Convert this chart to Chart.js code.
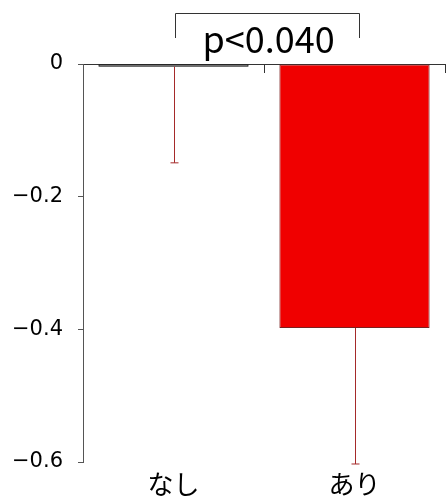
<!DOCTYPE html>
<html>
  <head>
    <meta charset="UTF-8" />
    <script src="https://cdn.jsdelivr.net/npm/chart.js"></script>
    <style>
      html, body { margin: 0; padding: 0; background: #fff; }
      #wrap { width: 446px; height: 502px; }
    </style>
  </head>
  <body>
    <div id="wrap"><canvas id="barChart" width="446" height="502"></canvas></div>
    <script>
      // データ
      const categories = ["なし", "あり"];
      const means = [-0.004, -0.398];
      const errors = [0.145, 0.205];
      const yTicks = [0, -0.2, -0.4, -0.6];
      const pLabel = "p<0.040";

      const jpFont = "'Noto Sans CJK JP', 'Noto Sans', sans-serif";

      // エラーバーとp値ブラケット
      const extras = {
        id: "extras",
        afterDatasetsDraw(chart) {
          const ctx = chart.ctx;
          const x = chart.scales.x;
          const y = chart.scales.y;
          ctx.save();
          ctx.strokeStyle = "#a52a2a";
          ctx.lineWidth = 1;
          means.forEach((m, i) => {
            const cx = Math.round(x.getPixelForValue(i)) + 0.5;
            const y1 = y.getPixelForValue(m);
            const y2 = y.getPixelForValue(m - errors[i]);
            ctx.beginPath();
            ctx.moveTo(cx, y1);
            ctx.lineTo(cx, y2);
            ctx.moveTo(cx - 4, y2);
            ctx.lineTo(cx + 4, y2);
            ctx.stroke();
          });
          // ブラケット
          const x0 = Math.round(x.getPixelForValue(0)) + 1.5;
          const x1 = Math.round(x.getPixelForValue(1)) + 4.5;
          ctx.strokeStyle = "#333";
          ctx.beginPath();
          ctx.moveTo(x0, 38);
          ctx.lineTo(x0, 13.5);
          ctx.lineTo(x1, 13.5);
          ctx.lineTo(x1, 38);
          ctx.stroke();
          ctx.fillStyle = "#000";
          ctx.font = "36px " + jpFont;
          ctx.textAlign = "center";
          ctx.textBaseline = "alphabetic";
          ctx.fillText(pLabel, (x0 + x1) / 2 + 1, 53);
          ctx.restore();
        },
      };

      new Chart(document.getElementById("barChart"), {
        type: "bar",
        data: {
          labels: categories,
          datasets: [
            {
              data: means,
              backgroundColor: ["#ffffff", "#f00000"],
              borderColor: ["#000000", "#7a2020"],
              borderWidth: 1,
              borderSkipped: false,
              categoryPercentage: 1,
              barPercentage: 0.83,
            },
          ],
        },
        options: {
          responsive: false,
          animation: false,
          layout: { padding: { top: 64, right: 1, left: 0, bottom: 0 } },
          plugins: { legend: { display: false }, tooltip: { enabled: false } },
          scales: {
            x: {
              type: "category",
              position: { y: 0 },
              offset: true,
              grid: {
                offset: true,
                drawOnChartArea: false,
                tickLength: 8,
                color: "#333",
              },
              border: { color: "#333", width: 1 },
              ticks: { display: false },
            },
            x2: {
              type: "category",
              position: "bottom",
              labels: categories,
              offset: true,
              grid: { display: false, drawTicks: false },
              border: { display: false },
              ticks: {
                color: "#000",
                padding: 7,
                font: { family: jpFont, size: 26 },
              },
              afterFit: (s) => { s.height = 40; },
            },
            y: {
              min: -0.6,
              max: 0,
              afterBuildTicks: (s) => {
                s.ticks = yTicks.map((v) => ({ value: v }));
              },
              grid: {
                drawOnChartArea: false,
                tickLength: 5,
                color: "#555",
              },
              border: { color: "#555", width: 1 },
              ticks: {
                color: "#000",
                padding: 15,
                font: { family: "'DejaVu Sans', sans-serif", size: 21 },
                callback: (v) => (v === 0 ? "0" : String(Math.round(v * 10) / 10).replace("-", "−")),
              },
              afterFit: (s) => { s.width = 83; },
            },
          },
        },
        plugins: [extras],
      });
    </script>
  </body>
</html>
